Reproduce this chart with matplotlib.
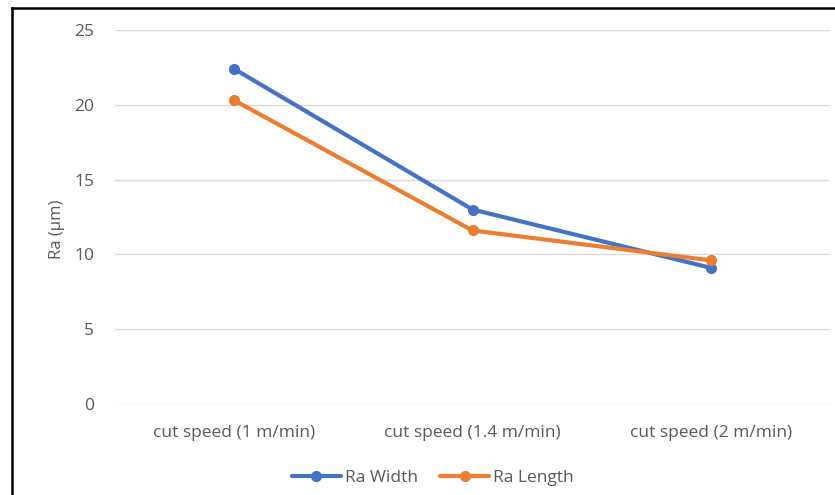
import matplotlib.pyplot as plt
from matplotlib.lines import Line2D

categories = ['cut speed (1 m/min)', 'cut speed (1.4 m/min)', 'cut speed (2 m/min)']
ra_width = [22.4, 13.0, 9.1]
ra_length = [20.3, 11.6, 9.6]
y_ticks = [0, 5, 10, 15, 20, 25]

plt.rcParams['font.family'] = ['Open Sans', 'DejaVu Sans']

fig = plt.figure(figsize=(8.35, 4.95), dpi=100)
ax = fig.add_axes([115/835, 91/495, 715/835, 374/495])

x = range(len(categories))
ax.plot(x, ra_width, color='#4472C4', lw=3, marker='o', ms=7, label='Ra Width',
        solid_capstyle='round', solid_joinstyle='round', zorder=3)
ax.plot(x, ra_length, color='#ED7D31', lw=3, marker='o', ms=7, label='Ra Length',
        solid_capstyle='round', solid_joinstyle='round', zorder=3)

ax.set_xlim(-0.5, 2.5)
ax.set_ylim(0, 25)
ax.set_yticks(y_ticks)
ax.set_xticks(list(x))
ax.set_xticklabels(categories)
ax.yaxis.grid(True, color='#D9D9D9', lw=1)
ax.set_axisbelow(True)
for s in ax.spines.values():
    s.set_visible(False)
ax.tick_params(length=0, labelsize=12.5, colors='#595959')
ax.tick_params(axis='y', pad=15)
ax.tick_params(axis='x', pad=15)
ax.set_ylabel('Ra (µm)', fontsize=12, color='#595959')
ax.yaxis.set_label_coords(-0.07, 0.468)

leg = ax.legend(loc='center', bbox_to_anchor=(433/835, 17/495), bbox_transform=fig.transFigure,
                ncol=2, frameon=False, fontsize=12.5, labelcolor='#595959',
                handlelength=2.8, columnspacing=1.3, handletextpad=0.25)

# outer border (top and left visible in the screenshot)
fig.add_artist(Line2D([12/835, 12/835], [0, 1 - 8/495], color='black', lw=1.8,
                      transform=fig.transFigure))
fig.add_artist(Line2D([12/835, 1], [1 - 8/495, 1 - 8/495], color='black', lw=1.8,
                      transform=fig.transFigure))

fig.savefig('out.png', dpi=100)
